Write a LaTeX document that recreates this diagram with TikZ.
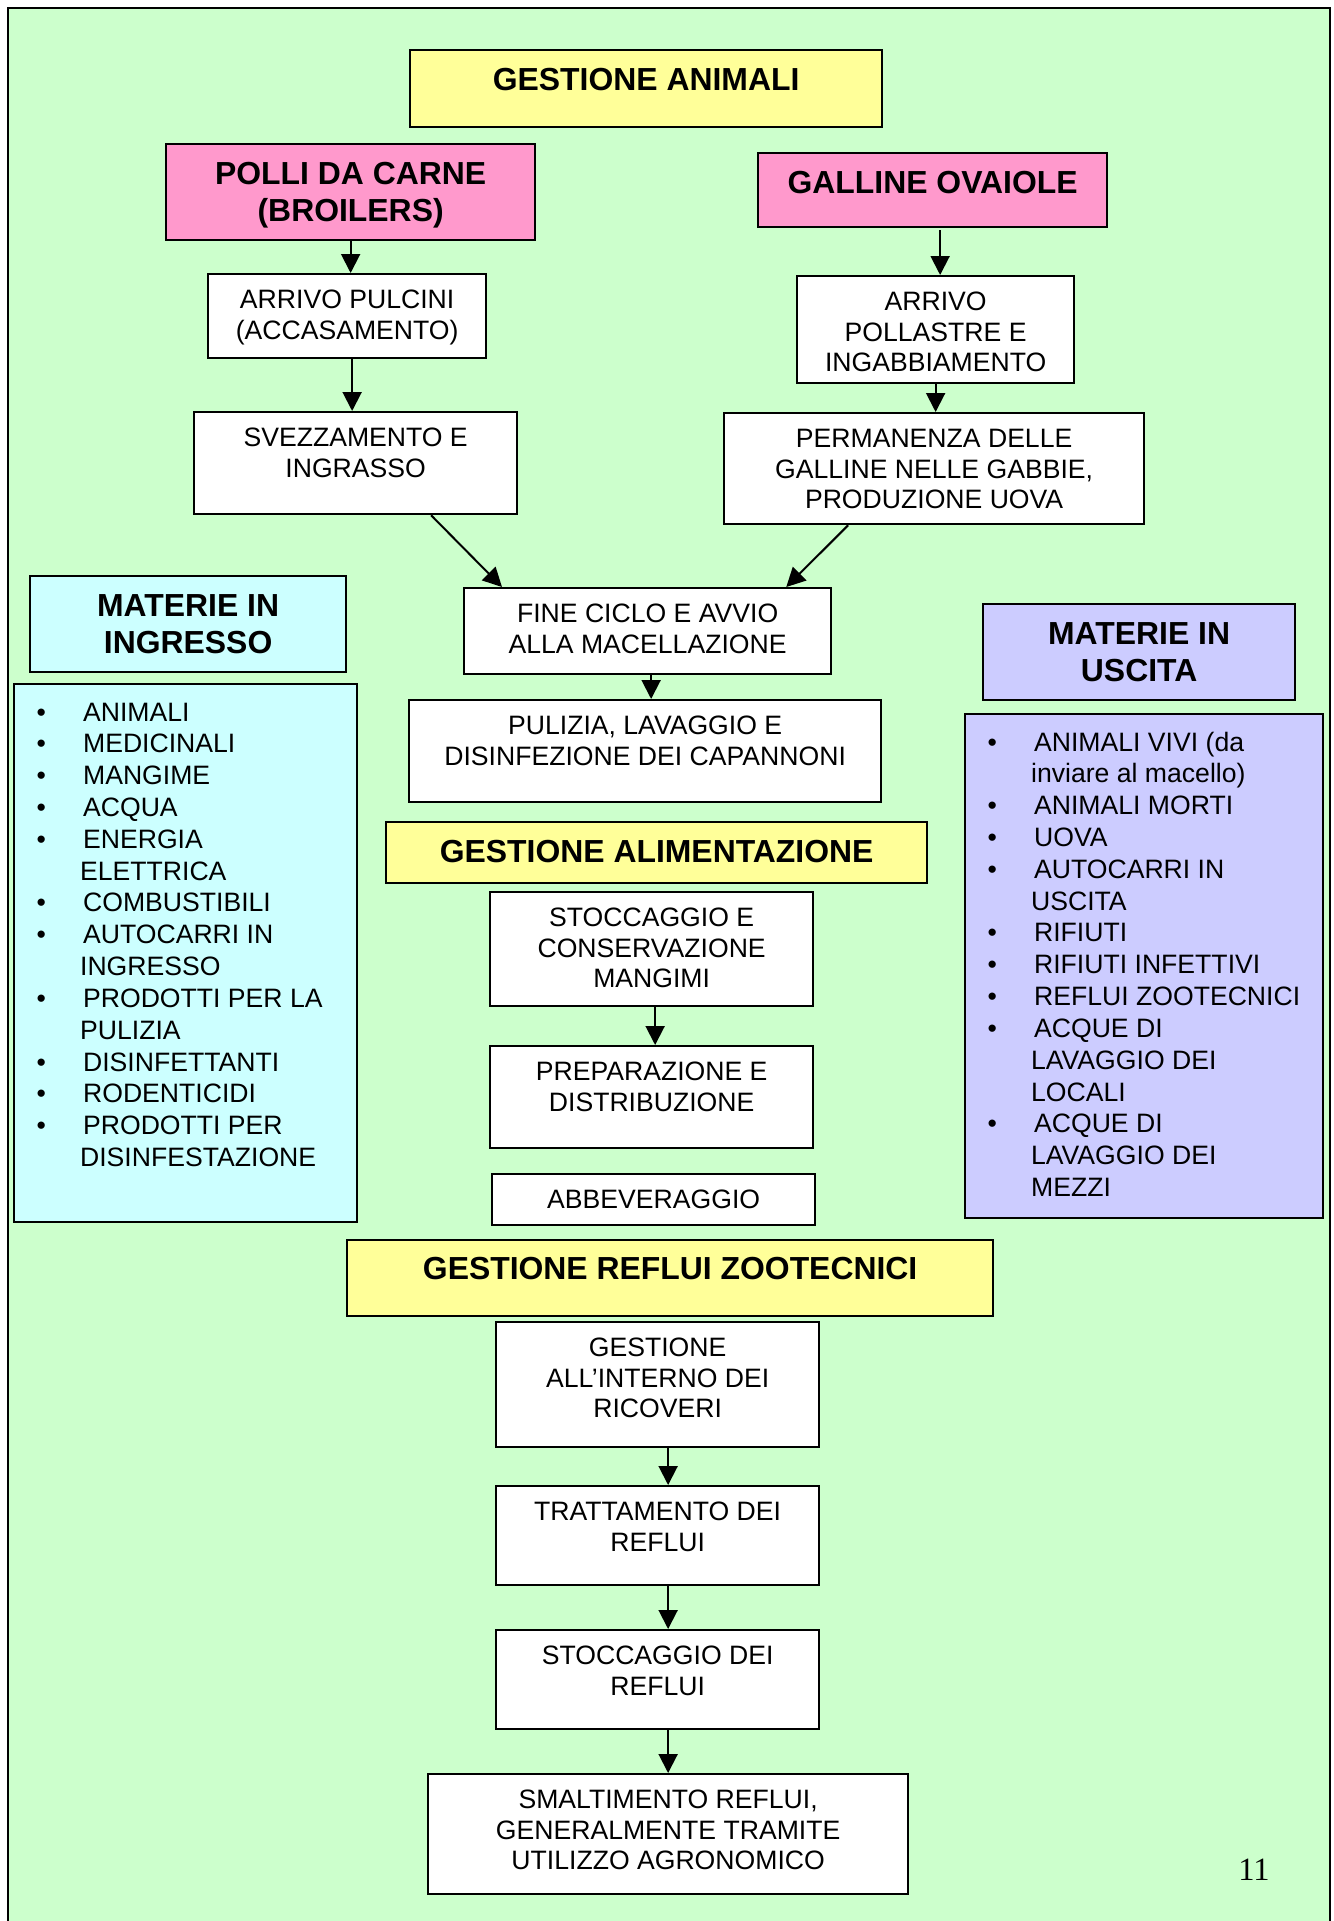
\documentclass[tikz,border=0pt]{standalone}
\usepackage{fontspec}
\setmainfont{Liberation Sans}
\newfontfamily\numfont{Liberation Serif}
\usepackage{xcolor}
\usepackage{tikz}
\usetikzlibrary{calc, arrows.meta}

\definecolor{bggreen}{HTML}{CCFFCC}
\definecolor{headyellow}{HTML}{FFFF99}
\definecolor{headpink}{HTML}{FF99CC}
\definecolor{incyan}{HTML}{CCFFFF}
\definecolor{outlilac}{HTML}{CCCCFF}

\newcommand{\bodyfont}{\fontsize{15.14}{17.4}\selectfont}
\newcommand{\listfont}{\fontsize{15.14}{18.1}\selectfont}
\newcommand{\headfont}{\fontsize{18.15}{21.1}\selectfont\bfseries}
% text sits at the top of each box
\newcommand{\boxtext}[4][0.69cm]{\parbox[c][#3][t]{#2}{\centering\rule{0pt}{#1}#4}}
\newcommand{\listtext}[3]{\parbox[c][#2][t]{#1}{\raggedright\rule{0pt}{0.74cm}#3}}
\newcommand{\bitem}{\hspace*{0.45cm}\makebox[0.93cm][l]{\textbullet}}
\newcommand{\contline}{\hspace*{1.32cm}}

\begin{document}
\begin{tikzpicture}[
      box/.style={rectangle, draw=black, line width=0.045cm, fill=white, inner sep=0pt, anchor=north west, font=\bodyfont},
      head/.style={box, font=\headfont},
      listbox/.style={box, font=\listfont},
      arrow/.style={-{Triangle[length=0.38cm,width=0.38cm]}, line width=0.04cm}
    ]
      \useasboundingbox (0,0) rectangle (26.68,-38.42);
      \draw[line width=0.04cm, fill=bggreen] (0.16,-0.16) rectangle (26.59,-38.8);

      % Gestione animali
      \node[head, fill=headyellow] (ganim) at (8.18,-0.98) {\boxtext[0.81cm]{9.44cm}{1.54cm}{GESTIONE ANIMALI}};
      \node[head, fill=headpink] (polli) at (3.30,-2.86) {\boxtext[0.81cm]{7.38cm}{1.92cm}{POLLI DA CARNE\\(BROILERS)}};
      \node[head, fill=headpink] (galline) at (15.14,-3.04) {\boxtext[0.81cm]{6.98cm}{1.48cm}{GALLINE OVAIOLE}};

      \node[box] (pulcini) at (4.14,-5.46) {\boxtext{5.56cm}{1.68cm}{ARRIVO PULCINI\\(ACCASAMENTO)}};
      \node[box] (pollastre) at (15.92,-5.50) {\boxtext{5.54cm}{2.14cm}{ARRIVO\\POLLASTRE E\\INGABBIAMENTO}};
      \node[box] (svezz) at (3.86,-8.22) {\boxtext{6.46cm}{2.04cm}{SVEZZAMENTO E\\INGRASSO}};
      \node[box] (perman) at (14.46,-8.24) {\boxtext{8.40cm}{2.22cm}{PERMANENZA DELLE\\GALLINE NELLE GABBIE,\\PRODUZIONE UOVA}};
      \node[box] (fine) at (9.26,-11.74) {\boxtext{7.34cm}{1.72cm}{FINE CICLO E AVVIO\\ALLA MACELLAZIONE}};
      \node[box] (pulizia) at (8.16,-13.98) {\boxtext{9.44cm}{2.04cm}{PULIZIA, LAVAGGIO E\\DISINFEZIONE DEI CAPANNONI}};

      % Materie in ingresso / uscita
      \node[head, fill=incyan] (ingrhead) at (0.58,-11.50) {\boxtext[0.81cm]{6.32cm}{1.92cm}{MATERIE IN\\INGRESSO}};
      \node[listbox, fill=incyan] (ingrlist) at (0.26,-13.66) {\listtext{6.86cm}{10.76cm}{%
        \bitem ANIMALI\\
        \bitem MEDICINALI\\
        \bitem MANGIME\\
        \bitem ACQUA\\
        \bitem ENERGIA\\
        \contline ELETTRICA\\
        \bitem COMBUSTIBILI\\
        \bitem AUTOCARRI IN\\
        \contline INGRESSO\\
        \bitem PRODOTTI PER LA\\
        \contline PULIZIA\\
        \bitem DISINFETTANTI\\
        \bitem RODENTICIDI\\
        \bitem PRODOTTI PER\\
        \contline DISINFESTAZIONE}};

      \node[head, fill=outlilac] (uschead) at (19.64,-12.06) {\boxtext[0.81cm]{6.24cm}{1.92cm}{MATERIE IN\\USCITA}};
      \node[listbox, fill=outlilac] (usclist) at (19.28,-14.26) {\listtext{7.16cm}{10.08cm}{%
        \bitem ANIMALI VIVI (da\\
        \contline inviare al macello)\\
        \bitem ANIMALI MORTI\\
        \bitem UOVA\\
        \bitem AUTOCARRI IN\\
        \contline USCITA\\
        \bitem RIFIUTI\\
        \bitem RIFIUTI INFETTIVI\\
        \bitem REFLUI ZOOTECNICI\\
        \bitem ACQUE DI\\
        \contline LAVAGGIO DEI\\
        \contline LOCALI\\
        \bitem ACQUE DI\\
        \contline LAVAGGIO DEI\\
        \contline MEZZI}};

      % Gestione alimentazione
      \node[head, fill=headyellow] (galim) at (7.70,-16.42) {\boxtext[0.81cm]{10.82cm}{1.22cm}{GESTIONE ALIMENTAZIONE}};
      \node[box] (stocc) at (9.78,-17.82) {\boxtext{6.46cm}{2.28cm}{STOCCAGGIO E\\CONSERVAZIONE\\MANGIMI}};
      \node[box] (prep) at (9.78,-20.90) {\boxtext{6.46cm}{2.04cm}{PREPARAZIONE E\\DISTRIBUZIONE}};
      \node[box] (abbev) at (9.82,-23.46) {\boxtext{6.46cm}{1.02cm}{ABBEVERAGGIO}};

      % Gestione reflui
      \node[head, fill=headyellow] (grefl) at (6.92,-24.78) {\boxtext[0.79cm]{12.92cm}{1.52cm}{GESTIONE REFLUI ZOOTECNICI}};
      \node[box] (interno) at (9.90,-26.42) {\boxtext{6.46cm}{2.50cm}{GESTIONE\\ALL’INTERNO DEI\\RICOVERI}};
      \node[box] (tratt) at (9.90,-29.70) {\boxtext{6.46cm}{1.98cm}{TRATTAMENTO DEI\\REFLUI}};
      \node[box] (stoccr) at (9.90,-32.58) {\boxtext{6.46cm}{1.98cm}{STOCCAGGIO DEI\\REFLUI}};
      \node[box] (smalt) at (8.54,-35.46) {\boxtext{9.60cm}{2.40cm}{SMALTIMENTO REFLUI,\\GENERALMENTE TRAMITE\\UTILIZZO AGRONOMICO}};

      \node[font=\numfont\fontsize{18.5}{22}\selectfont, anchor=base, inner sep=0pt] (pagenum) at (25.08,-37.60) {11};

      % Arrows
      \draw[arrow] (polli.south) -- (polli.south |- pulcini.north);
      \draw[arrow] ($(pulcini.south)+(0.1,0)$) -- ($(pulcini.south |- svezz.north)+(0.1,0)$);
      \draw[arrow] ($(pollastre.north |- galline.south)+(0.09,-0.04)$) -- ($(pollastre.north)+(0.09,0)$);
      \draw[arrow] (pollastre.south) -- (pollastre.south |- perman.north);
      \draw[arrow] ($(svezz.south)+(1.51,0)$) -- ($(fine.north west)+(0.78,0)$);
      \draw[arrow] ($(perman.south)+(-1.72,0)$) -- ($(fine.north east)+(-0.92,0)$);
      \draw[arrow] ($(fine.south)+(0.07,0)$) -- ($(fine.south |- pulizia.north)+(0.07,0)$);
      \draw[arrow] ($(stocc.south)+(0.07,0)$) -- ($(stocc.south |- prep.north)+(0.07,0)$);
      \draw[arrow] (interno.south -| smalt.north) -- (tratt.north -| smalt.north);
      \draw[arrow] (tratt.south -| smalt.north) -- (stoccr.north -| smalt.north);
      \draw[arrow] (stoccr.south -| smalt.north) -- (smalt.north);
    \end{tikzpicture}
\end{document}
